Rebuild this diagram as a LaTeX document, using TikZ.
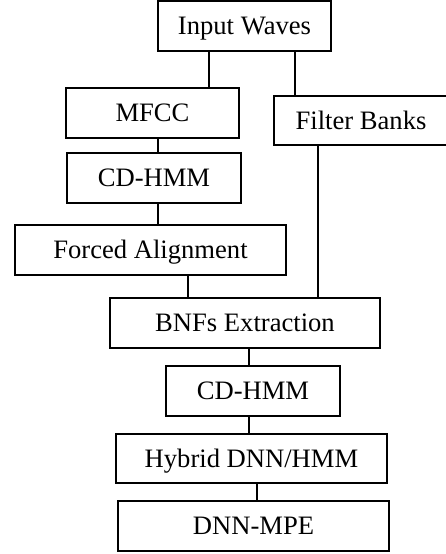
\documentclass[tikz,border=0pt]{standalone}
\usepackage{fontspec}
\setmainfont{Liberation Serif}
\begin{document}
\begin{tikzpicture}[x=1pt,y=-1pt,
  box/.style={draw, line width=2pt, inner sep=0pt, minimum width=#1, minimum height=50pt,
    text height=17pt, text depth=0pt, font=\fontsize{26.6}{30}\selectfont},
  box/.default=173pt,
  link/.style={line width=2pt}]
  \useasboundingbox (0,0) rectangle (446,554);
  \clip (0,0) rectangle (446,554);
  \fill[white] (0,0) rectangle (446,554);

  % processing stages
  \node[box=173pt] (iw)   at (244.5,26)  {Input Waves};
  \node[box=173pt] (mfcc) at (152.5,113) {MFCC};
  \node[box=174pt, minimum height=49pt] (fb) at (361,120.5) {Filter Banks};
  \node[box=174pt] (cd1)  at (154,178)   {CD-HMM};
  \node[box=271pt] (fa)   at (150.5,250) {Forced Alignment};
  \node[box=270pt] (bnf)  at (245,323)   {BNFs Extraction};
  \node[box=174pt] (cd2)  at (253,391)   {CD-HMM};
  \node[box=271pt, minimum height=49pt] (hy) at (251.5,458.5) {Hybrid DNN/HMM};
  \node[box=271pt] (dm)   at (253.5,526) {DNN-MPE};

  % vertical positions of the connectors
  \coordinate (xa) at (209,0);
  \coordinate (xb) at (295,0);
  \coordinate (xc) at (158,0);
  \coordinate (xd) at (188,0);
  \coordinate (xe) at (318,0);
  \coordinate (xf) at (249,0);
  \coordinate (xg) at (257,0);

  \draw[link] (iw.south -| xa)   -- (mfcc.north -| xa);
  \draw[link] (iw.south -| xb)   -- (fb.north -| xb);
  \draw[link] (mfcc.south -| xc) -- (cd1.north -| xc);
  \draw[link] (cd1.south -| xc)  -- (fa.north -| xc);
  \draw[link] (fa.south -| xd)   -- (bnf.north -| xd);
  \draw[link] (fb.south -| xe)   -- (bnf.north -| xe);
  \draw[link] (bnf.south -| xf)  -- (cd2.north -| xf);
  \draw[link] (cd2.south -| xf)  -- (hy.north -| xf);
  \draw[link] (hy.south -| xg)   -- (dm.north -| xg);
\end{tikzpicture}
\end{document}
